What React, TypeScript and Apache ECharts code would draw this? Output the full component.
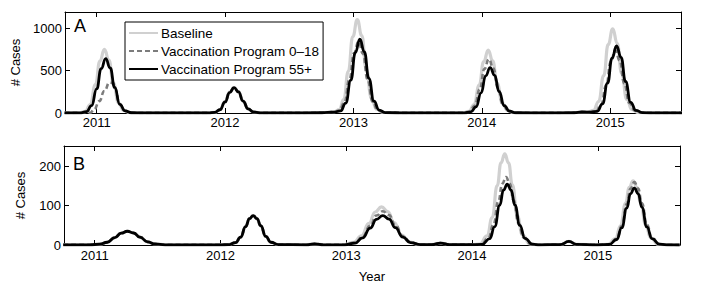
import React, { useEffect, useRef } from 'react';
import * as echarts from 'echarts';

const FONT = '"Liberation Sans", Arial, Helvetica, sans-serif';

const seriesNames = ['Baseline', 'Vaccination Program 0–18', 'Vaccination Program 55+'];
const panelLabels = ['A', 'B'];
const yTickStepA = 500;
const yTickStepB = 100;
const xAxisTitle = 'Year';
const yAxisTitle = '# Cases';

// Panel A: [year, cases]
const topBaseline: [number, number][] = [
  [2010.75, 1], [2010.86, 1], [2010.91, 18], [2010.95, 100], [2010.99, 335], [2011.025, 612], [2011.06, 750],
  [2011.095, 622], [2011.13, 352], [2011.17, 120], [2011.21, 30], [2011.26, 4], [2011.4, 1], [2011.87, 1],
  [2011.92, 7], [2011.96, 40], [2012.0, 134], [2012.035, 245], [2012.07, 300], [2012.105, 249], [2012.14, 141],
  [2012.18, 48], [2012.22, 12], [2012.27, 2], [2012.5, 1], [2012.74, 3], [2012.8, 9], [2012.85, 14], [2012.89, 40],
  [2012.925, 160], [2012.96, 490], [2012.995, 900], [2013.03, 1100], [2013.065, 912], [2013.1, 517], [2013.14, 176],
  [2013.18, 44], [2013.23, 6], [2013.4, 1], [2013.85, 1], [2013.9, 18], [2013.94, 100], [2013.98, 330],
  [2014.015, 605], [2014.05, 740], [2014.085, 614], [2014.12, 348], [2014.16, 118], [2014.2, 30], [2014.25, 4],
  [2014.5, 1], [2014.72, 4], [2014.78, 13], [2014.83, 14], [2014.87, 30], [2014.91, 134], [2014.95, 440],
  [2014.985, 808], [2015.02, 990], [2015.055, 822], [2015.09, 465], [2015.13, 158], [2015.17, 40], [2015.22, 5],
  [2015.35, 1], [2015.56, 1],
];
const topDashed: [number, number][] = [
  [2010.75, 1], [2010.95, 3], [2010.98, 40], [2011.02, 140], [2011.06, 260], [2011.1, 360], [2011.13, 350],
  [2011.14, 300], [2011.18, 102], [2011.22, 26], [2011.27, 3], [2011.4, 1], [2011.87, 1], [2011.92, 7],
  [2011.96, 38], [2012.0, 130], [2012.035, 240], [2012.07, 298], [2012.105, 248], [2012.14, 140], [2012.18, 48],
  [2012.22, 12], [2012.27, 2], [2012.5, 1], [2012.74, 3], [2012.8, 8], [2012.84, 10], [2012.89, 28], [2012.93, 125],
  [2012.97, 400], [2013.005, 705], [2013.04, 840], [2013.075, 700], [2013.11, 395], [2013.15, 132], [2013.19, 33],
  [2013.24, 5], [2013.4, 1], [2013.855, 1], [2013.905, 15], [2013.945, 86], [2013.985, 283], [2014.02, 519],
  [2014.055, 635], [2014.09, 527], [2014.125, 298], [2014.165, 101], [2014.205, 26], [2014.255, 3], [2014.5, 1],
  [2014.72, 3], [2014.78, 11], [2014.84, 10], [2014.89, 20], [2014.93, 100], [2014.97, 329], [2015.005, 605],
  [2015.04, 740], [2015.075, 614], [2015.11, 348], [2015.15, 118], [2015.19, 30], [2015.24, 4], [2015.35, 1],
  [2015.56, 1],
];
const topBlack: [number, number][] = [
  [2010.75, 1], [2010.87, 1], [2010.92, 15], [2010.96, 86], [2011.0, 285], [2011.035, 523], [2011.07, 640],
  [2011.105, 531], [2011.14, 301], [2011.18, 102], [2011.22, 26], [2011.27, 3], [2011.4, 1], [2011.87, 1],
  [2011.92, 7], [2011.96, 38], [2012.0, 130], [2012.035, 240], [2012.07, 298], [2012.105, 248], [2012.14, 140],
  [2012.18, 48], [2012.22, 12], [2012.27, 2], [2012.5, 1], [2012.74, 3], [2012.8, 8], [2012.85, 10], [2012.9, 24],
  [2012.94, 117], [2012.98, 387], [2013.015, 712], [2013.05, 870], [2013.085, 721], [2013.12, 409], [2013.16, 139],
  [2013.2, 35], [2013.25, 5], [2013.4, 1], [2013.865, 1], [2013.915, 13], [2013.955, 72], [2013.995, 238],
  [2014.03, 437], [2014.065, 535], [2014.1, 444], [2014.135, 252], [2014.175, 86], [2014.215, 22], [2014.265, 3],
  [2014.5, 1], [2014.72, 3], [2014.78, 12], [2014.85, 10], [2014.9, 20], [2014.94, 107], [2014.98, 351],
  [2015.015, 645], [2015.05, 790], [2015.085, 656], [2015.12, 371], [2015.16, 126], [2015.2, 32], [2015.25, 4],
  [2015.35, 1], [2015.56, 1],
];

// Panel B: [year, cases]
const botBaseline: [number, number][] = [
  [2010.75, 0.5], [2010.96, 0.5], [2011.04, 2], [2011.1, 7], [2011.16, 19], [2011.21, 30], [2011.26, 35],
  [2011.31, 30.5], [2011.36, 20], [2011.42, 8], [2011.48, 2.5], [2011.56, 0.5], [2012.0, 0.5], [2012.06, 0.8],
  [2012.12, 6], [2012.16, 20], [2012.2, 47], [2012.23, 67], [2012.26, 75], [2012.29, 67], [2012.32, 49],
  [2012.36, 22], [2012.4, 7], [2012.46, 1], [2012.68, 0.5], [2012.75, 3], [2012.82, 0.5], [2012.98, 0.7],
  [2013.06, 7], [2013.12, 23], [2013.18, 55], [2013.23, 84], [2013.28, 97], [2013.33, 85], [2013.38, 57],
  [2013.44, 25], [2013.5, 8], [2013.58, 1], [2013.68, 1], [2013.75, 5], [2013.82, 1], [2014.0, 1], [2014.06, 2],
  [2014.12, 23], [2014.16, 70], [2014.2, 151], [2014.23, 209], [2014.26, 232], [2014.29, 209], [2014.32, 153],
  [2014.36, 74], [2014.4, 26], [2014.46, 3], [2014.52, 0.5], [2014.7, 1], [2014.77, 9], [2014.83, 1.5],
  [2015.0, 0.5], [2015.08, 1.5], [2015.14, 16], [2015.18, 49], [2015.22, 106], [2015.25, 147], [2015.28, 163],
  [2015.31, 147], [2015.34, 108], [2015.38, 52], [2015.42, 18], [2015.48, 2], [2015.56, 0.3], [2015.65, 0],
];
const botDashed: [number, number][] = [
  [2010.75, 0.5], [2010.96, 0.5], [2011.04, 2], [2011.1, 7], [2011.16, 19], [2011.21, 30], [2011.26, 35],
  [2011.31, 30.5], [2011.36, 20], [2011.42, 8], [2011.48, 2.5], [2011.56, 0.5], [2012.0, 0.5], [2012.06, 0.8],
  [2012.12, 6], [2012.16, 20], [2012.2, 47], [2012.23, 67], [2012.26, 75], [2012.29, 67], [2012.32, 49],
  [2012.36, 22], [2012.4, 7], [2012.46, 1], [2012.68, 0.5], [2012.75, 3], [2012.82, 0.5], [2012.99, 0.6],
  [2013.07, 6], [2013.13, 21], [2013.19, 49], [2013.24, 75], [2013.29, 86], [2013.34, 76], [2013.39, 51],
  [2013.45, 22], [2013.51, 7], [2013.59, 1], [2013.68, 1], [2013.75, 5], [2013.82, 1], [2014.0, 1], [2014.07, 1.5],
  [2014.13, 17], [2014.17, 52], [2014.21, 112], [2014.24, 156], [2014.27, 173], [2014.3, 156], [2014.33, 114],
  [2014.37, 55], [2014.41, 19], [2014.47, 2], [2014.53, 0.5], [2014.7, 1], [2014.77, 9], [2014.83, 1.5],
  [2015.0, 0.5], [2015.09, 1.5], [2015.15, 16], [2015.19, 48], [2015.23, 104], [2015.26, 144], [2015.29, 160],
  [2015.32, 144], [2015.35, 106], [2015.39, 51], [2015.43, 18], [2015.49, 2], [2015.57, 0.3], [2015.65, 0],
];
const botBlack: [number, number][] = [
  [2010.75, 0.5], [2010.96, 0.5], [2011.04, 2], [2011.1, 7], [2011.16, 19], [2011.21, 30], [2011.26, 35],
  [2011.31, 30.5], [2011.36, 20], [2011.42, 8], [2011.48, 2.5], [2011.56, 0.5], [2012.0, 0.5], [2012.06, 0.8],
  [2012.12, 6], [2012.16, 20], [2012.2, 47], [2012.23, 67], [2012.26, 75], [2012.29, 67], [2012.32, 49],
  [2012.36, 22], [2012.4, 7], [2012.46, 1], [2012.68, 0.5], [2012.75, 3], [2012.82, 0.5], [2012.99, 0.5],
  [2013.07, 5], [2013.13, 18], [2013.19, 43], [2013.24, 65], [2013.29, 75], [2013.34, 66], [2013.39, 44],
  [2013.45, 20], [2013.51, 6], [2013.59, 1], [2013.68, 1], [2013.75, 5], [2013.82, 1], [2014.0, 1], [2014.08, 1.4],
  [2014.14, 16], [2014.18, 47], [2014.22, 101], [2014.25, 140], [2014.28, 155], [2014.31, 140], [2014.34, 102],
  [2014.38, 50], [2014.42, 17], [2014.48, 2], [2014.54, 0.4], [2014.7, 1], [2014.77, 9], [2014.83, 1.5],
  [2015.0, 0.5], [2015.09, 1.3], [2015.15, 14], [2015.19, 44], [2015.23, 94], [2015.26, 131], [2015.29, 145],
  [2015.32, 131], [2015.35, 96], [2015.39, 46], [2015.43, 16], [2015.49, 2], [2015.57, 0.3], [2015.65, 0],
];

const lineStyles = [
  { color: '#d0d0d0', width: 3.2, type: 'solid' as any },
  { color: '#7c7c7c', width: 2.6, type: [5, 3] as any },
  { color: '#000000', width: 2.8, type: 'solid' as any },
];

function makeXAxes(gridIndex: number, min: number, max: number, withName: boolean, labelMargin: number) {
  const common = {
    type: 'value' as const,
    gridIndex,
    min,
    max,
    minInterval: 1,
    maxInterval: 1,
    splitLine: { show: false },
    axisLine: { show: true, onZero: false, lineStyle: { color: '#000', width: 1 } },
    axisTick: { show: true, inside: true, length: 5, lineStyle: { color: '#000', width: 1 } },
  };
  return [
    {
      ...common,
      position: 'bottom',
      name: withName ? xAxisTitle : '',
      nameLocation: 'middle',
      nameGap: 25,
      nameTextStyle: { fontFamily: FONT, fontSize: 13, color: '#000' },
      axisLabel: {
        show: true,
        margin: labelMargin,
        fontFamily: FONT,
        fontSize: 13,
        color: '#000',
        formatter: (v: number) => (Math.abs(v - Math.round(v)) < 1e-6 ? String(Math.round(v)) : ''),
      },
    },
    { ...common, position: 'top', axisLabel: { show: false } },
  ];
}

function makeYAxes(gridIndex: number, max: number, step: number) {
  const common = {
    type: 'value' as const,
    gridIndex,
    min: 0,
    max,
    interval: step,
    splitLine: { show: false },
    axisLine: { show: true, onZero: false, lineStyle: { color: '#000', width: 1 } },
    axisTick: { show: true, inside: true, length: 5, lineStyle: { color: '#000', width: 1 } },
  };
  return [
    {
      ...common,
      position: 'left',
      name: yAxisTitle,
      nameLocation: 'middle',
      nameGap: 37,
      nameTextStyle: { fontFamily: FONT, fontSize: 13, color: '#000' },
      axisLabel: {
        show: true,
        margin: 3,
        fontFamily: FONT,
        fontSize: 13,
        color: '#000',
        formatter: (v: number) => (v % step === 0 ? String(v) : ''),
      },
    },
    { ...common, position: 'right', axisLabel: { show: false } },
  ];
}

export default function App() {
  const ref = useRef<HTMLDivElement>(null);
  useEffect(() => {
    if (!ref.current) return;
    const chart = echarts.init(ref.current, null, { renderer: 'svg' });
    const panelData = [
      [topBaseline, topDashed, topBlack],
      [botBaseline, botDashed, botBlack],
    ];
    const series: any[] = [];
    panelData.forEach((sets, p) => {
      sets.forEach((data, i) => {
        series.push({
          type: 'line',
          name: seriesNames[i],
          data,
          xAxisIndex: p * 2,
          yAxisIndex: p * 2,
          showSymbol: false,
          symbol: 'none',
          smooth: 0.5,
          smoothMonotone: 'x',
          lineStyle: lineStyles[i],
          itemStyle: { color: lineStyles[i].color },
          z: 2 + i,
          silent: true,
        });
      });
    });
    chart.setOption({
      animation: false,
      backgroundColor: '#ffffff',
      grid: [
        { left: 65, right: 20, top: 12, height: 101, containLabel: false },
        { left: 64, right: 21, top: 146, height: 99, containLabel: false },
      ],
      xAxis: [
        ...makeXAxes(0, 2010.753, 2015.552, false, 3),
        ...makeXAxes(1, 2010.756, 2015.653, true, 4),
      ],
      yAxis: [...makeYAxes(0, 1190, yTickStepA), ...makeYAxes(1, 252, yTickStepB)],
      legend: {
        show: true,
        data: seriesNames,
        orient: 'vertical',
        left: 125,
        top: 22,
        padding: [4, 4, 4, 3],
        itemGap: 4,
        itemWidth: 29,
        itemHeight: 14,
        backgroundColor: '#ffffff',
        borderColor: '#000000',
        borderWidth: 1,
        borderRadius: 0,
        selectedMode: false,
        itemStyle: { opacity: 0, borderWidth: 0 },
        textStyle: { fontFamily: FONT, fontSize: 13.5, color: '#000', padding: [0, 0, 0, -2] },
        z: 10,
      },
      graphic: [
        {
          type: 'text',
          x: 74,
          y: 26,
          z: 20,
          style: { text: panelLabels[0], fontFamily: FONT, fontSize: 18, fill: '#000', verticalAlign: 'middle', align: 'left' },
        },
        {
          type: 'text',
          x: 73,
          y: 164,
          z: 20,
          style: { text: panelLabels[1], fontFamily: FONT, fontSize: 18, fill: '#000', verticalAlign: 'middle', align: 'left' },
        },
      ],
      series,
    });
    return () => chart.dispose();
  }, []);
  return (
    <div
      ref={ref}
      style={{ position: 'fixed', left: 0, top: 0, width: 701, height: 289, background: '#fff' }}
    />
  );
}
